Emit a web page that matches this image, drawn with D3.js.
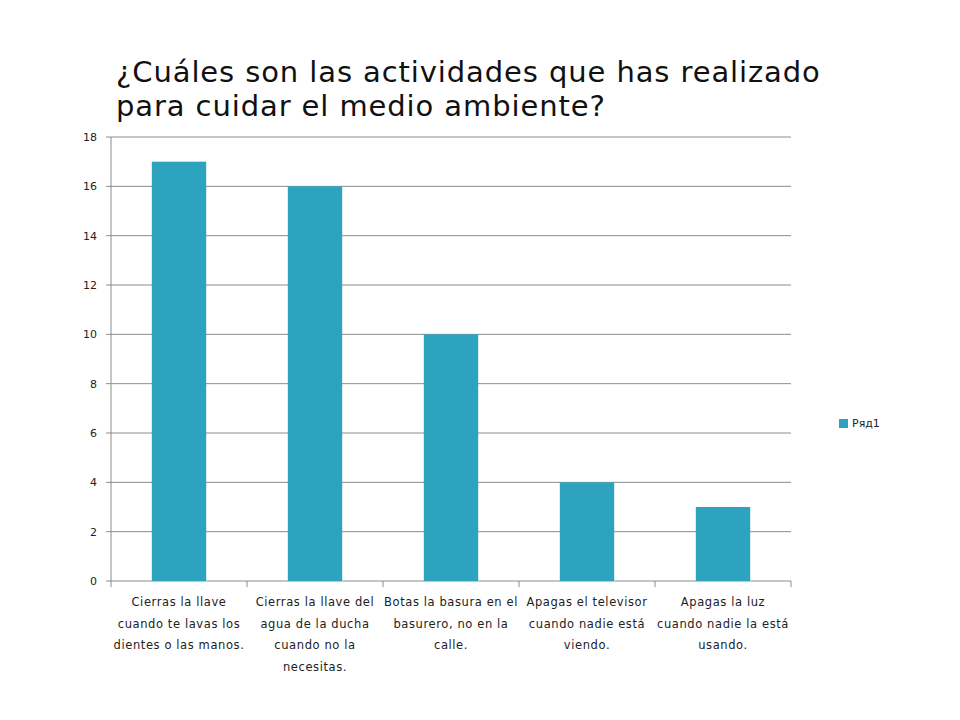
<!DOCTYPE html>
<html>
<head>
<meta charset="utf-8">
<script src="https://d3js.org/d3.v7.min.js"></script>
<style>
  body { margin: 0; background: #fff; }
  text { font-family: "DejaVu Sans", sans-serif; }
</style>
</head>
<body>
<svg id="chart" width="960" height="720"></svg>
<script>
var categories = [
  ["Cierras la llave", "cuando te lavas los", "dientes o las manos."],
  ["Cierras la llave del", "agua de la ducha", "cuando no la", "necesitas."],
  ["Botas la basura en el", "basurero, no en la", "calle."],
  ["Apagas el televisor", "cuando nadie está", "viendo."],
  ["Apagas la luz", "cuando nadie la está", "usando."]
];
var values = [17, 16, 10, 4, 3];
var yTicks = [0, 2, 4, 6, 8, 10, 12, 14, 16, 18];
var seriesName = "Ряд1";
var titleLines = ["¿Cuáles son las actividades que has realizado", "para cuidar el medio ambiente?"];

var svg = d3.select("#chart");
var pLeft = 111, pRight = 791, pTop = 137, pBottom = 581;
var barColor = "#2ea3c0";

// title
svg.append("text").attr("x", 116).attr("y", 82)
  .attr("font-size", 29).attr("fill", "#111").attr("letter-spacing", 0.9)
  .selectAll("tspan").data(titleLines).join("tspan")
  .attr("x", 116).attr("dy", (d, i) => i ? 34 : 0).text(d => d);

var x = d3.scaleBand().domain(d3.range(values.length)).range([pLeft, pRight]).paddingInner(0.6).paddingOuter(0.3);
var xb = d3.scaleBand().domain(d3.range(values.length)).range([pLeft, pRight]);
var y = d3.scaleLinear().domain([0, 18]).range([pBottom, pTop]);

// grid
svg.append("g").selectAll("line").data(yTicks).join("line")
  .attr("x1", pLeft - 5).attr("x2", pRight)
  .attr("y1", d => y(d)).attr("y2", d => y(d))
  .attr("stroke", "#8c8c8c").attr("stroke-width", 1);

svg.append("g").selectAll("text").data(yTicks).join("text")
  .attr("x", pLeft - 14).attr("y", d => y(d) + 4)
  .attr("text-anchor", "end").attr("font-size", 11).attr("fill", "#222")
  .text(d => d);

// axes lines
svg.append("line").attr("x1", pLeft).attr("x2", pLeft).attr("y1", pTop).attr("y2", pBottom).attr("stroke", "#8c8c8c");
svg.append("g").selectAll("line").data(d3.range(values.length + 1)).join("line")
  .attr("x1", d => pLeft + d * xb.bandwidth()).attr("x2", d => pLeft + d * xb.bandwidth())
  .attr("y1", pBottom).attr("y2", pBottom + 6).attr("stroke", "#8c8c8c");

// bars
svg.append("g").selectAll("rect").data(values).join("rect")
  .attr("x", (d, i) => x(i)).attr("width", x.bandwidth())
  .attr("y", d => y(d)).attr("height", d => pBottom - y(d))
  .attr("fill", barColor);

// category labels
svg.append("g").selectAll("text").data(categories).join("text")
  .attr("text-anchor", "middle").attr("font-size", 11.5).attr("fill", "#222")
  .attr("letter-spacing", 0.6)
  .each(function (lines, i) {
    d3.select(this).selectAll("tspan").data(lines).join("tspan")
      .attr("x", xb(i) + xb.bandwidth() / 2)
      .attr("y", (d, j) => 606 + j * 21.5)
      .text(d => d);
  });

// legend
svg.append("rect").attr("x", 839).attr("y", 419).attr("width", 9).attr("height", 9).attr("fill", barColor);
svg.append("text").attr("x", 852).attr("y", 427).attr("font-size", 11).attr("fill", "#222").text(seriesName);
</script>
</body>
</html>
